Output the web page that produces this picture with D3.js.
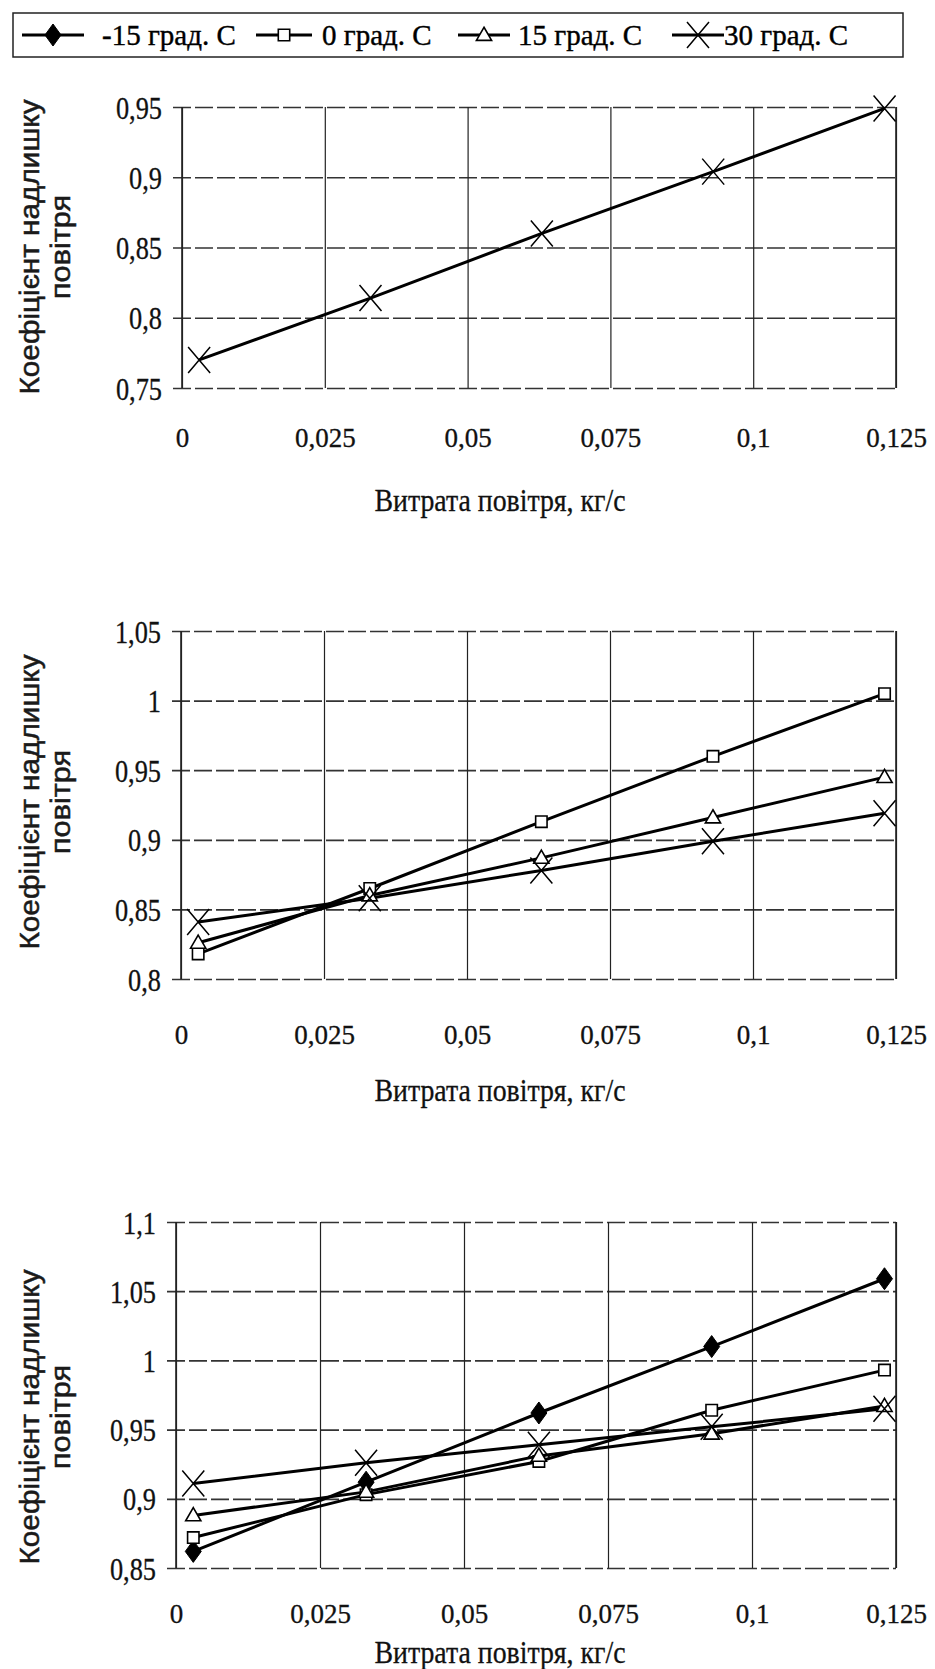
<!DOCTYPE html>
<html><head><meta charset="utf-8">
<script src="https://cdn.jsdelivr.net/npm/d3@7"></script>
<style>html,body{margin:0;padding:0;background:#fff}svg{display:block}</style>
</head><body>
<script>
// ---------- data ----------
const xValues = [0.003, 0.033, 0.063, 0.093, 0.123];
const xTicks = [0, 0.025, 0.05, 0.075, 0.1, 0.125];
const xTickLabels = ["0", "0,025", "0,05", "0,075", "0,1", "0,125"];
const seriesNames = ["-15 град. С", "0 град. С", "15 град. С", "30 град. С"];
const seriesSymbols = ["diamond", "square", "triangle", "cross"];

const yTicks1 = [0.75, 0.8, 0.85, 0.9, 0.95];
const yTickLabels1 = ["0,75", "0,8", "0,85", "0,9", "0,95"];
const panel1_30 = [0.770, 0.814, 0.860, 0.904, 0.949];

const yTicks2 = [0.8, 0.85, 0.9, 0.95, 1.0, 1.05];
const yTickLabels2 = ["0,8", "0,85", "0,9", "0,95", "1", "1,05"];
const panel2_0 = [0.818, 0.865, 0.913, 0.960, 1.005];
const panel2_15 = [0.826, 0.860, 0.887, 0.916, 0.945];
const panel2_30 = [0.841, 0.858, 0.878, 0.899, 0.919];

const yTicks3 = [0.85, 0.9, 0.95, 1.0, 1.05, 1.1];
const yTickLabels3 = ["0,85", "0,9", "0,95", "1", "1,05", "1,1"];
const panel3_m15 = [0.862, 0.912, 0.962, 1.010, 1.059];
const panel3_0 = [0.872, 0.903, 0.927, 0.964, 0.993];
const panel3_15 = [0.888, 0.905, 0.931, 0.947, 0.967];
const panel3_30 = [0.911, 0.926, 0.939, 0.952, 0.965];

const xTitle = "Витрата повітря, кг/с";
const yTitle1 = "Коефіцієнт надлишку";
const yTitle2 = "повітря";

// ---------- layout ----------
const W = 935, H = 1669;
const svg = d3.select("body").append("svg").attr("width", W).attr("height", H);
const SERIF = "'Liberation Serif', 'Times New Roman', serif";
const SANS = "'Liberation Sans', Arial, sans-serif";

function condense(sel, k) {
  sel.each(function () {
    const w = this.getComputedTextLength();
    d3.select(this).attr("textLength", w * k).attr("lengthAdjust", "spacingAndGlyphs");
  });
}

function drawMarker(g, type, cx, cy) {
  if (type === "diamond") {
    g.append("path").attr("d", "M0,-11L8,0L0,11L-8,0Z").attr("transform", `translate(${cx},${cy})`)
      .attr("fill", "#000").attr("stroke", "#000").attr("stroke-width", 1);
  } else if (type === "square") {
    g.append("path").attr("d", d3.symbol(d3.symbolSquare, 130)()).attr("transform", `translate(${cx},${cy})`)
      .attr("fill", "#fff").attr("stroke", "#000").attr("stroke-width", 1.6);
  } else if (type === "triangle") {
    g.append("path").attr("d", d3.symbol(d3.symbolTriangle, 100)()).attr("transform", `translate(${cx},${cy + 1})`)
      .attr("fill", "#fff").attr("stroke", "#000").attr("stroke-width", 1.6);
  } else if (type === "cross") {
    const dx = 11, dy = 13;
    g.append("path").attr("d", `M${cx - dx},${cy - dy}L${cx + dx},${cy + dy}M${cx - dx},${cy + dy}L${cx + dx},${cy - dy}`)
      .attr("fill", "none").attr("stroke", "#000").attr("stroke-width", 1.5);
  }
}

function panel(cfg) {
  const g = svg.append("g");
  const x = d3.scaleLinear().domain([0, 0.125]).range([cfg.left, cfg.right]);
  const y = d3.scaleLinear().domain([cfg.yTicks[0], cfg.yTicks[cfg.yTicks.length - 1]]).range([cfg.bottom, cfg.top]);

  // horizontal gridlines (dashed look)
  const yAxis = d3.axisLeft(y).tickValues(cfg.yTicks).tickSize(-(cfg.right - cfg.left)).tickSizeOuter(0)
    .tickFormat((d, i) => cfg.yLabels[i]);
  const ya = g.append("g").attr("transform", `translate(${cfg.left},0)`).call(yAxis);
  ya.select(".domain").remove();
  ya.selectAll(".tick line").attr("x1", -9).attr("stroke", "#333").attr("stroke-width", 1.7).attr("stroke-dasharray", "18,4");
  ya.selectAll(".tick text").attr("x", -20).attr("dy", "0.36em").style("font-family", SERIF).style("font-size", "31px")
    .attr("fill", "#111").attr("stroke", "#111").attr("stroke-width", 0.3);
  condense(ya.selectAll(".tick text"), 0.85);

  // vertical gridlines
  const xAxis = d3.axisBottom(x).tickValues(xTicks).tickSize(-(cfg.bottom - cfg.top)).tickSizeOuter(0)
    .tickFormat((d, i) => xTickLabels[i]);
  const xa = g.append("g").attr("transform", `translate(0,${cfg.bottom})`).call(xAxis);
  xa.select(".domain").remove();
  xa.selectAll(".tick line").attr("stroke", "#222").attr("stroke-width", 1.2);
  xa.selectAll(".tick text").attr("y", cfg.xLabelDy).attr("dy", "0.36em").style("font-family", SERIF).style("font-size", "27px")
    .attr("fill", "#111").attr("stroke", "#111").attr("stroke-width", 0.3);

  // plot frame left/right
  g.append("line").attr("x1", cfg.left).attr("x2", cfg.left).attr("y1", cfg.top).attr("y2", cfg.bottom).attr("stroke", "#222").attr("stroke-width", 1.6);
  g.append("line").attr("x1", cfg.right).attr("x2", cfg.right).attr("y1", cfg.top).attr("y2", cfg.bottom).attr("stroke", "#222").attr("stroke-width", 1.6);

  // series
  const line = d3.line().x((d, i) => x(xValues[i])).y(d => y(d));
  cfg.series.forEach(s => {
    g.append("path").datum(s.values).attr("d", line).attr("fill", "none").attr("stroke", "#000").attr("stroke-width", 3);
  });
  cfg.series.forEach(s => {
    s.values.forEach((v, i) => drawMarker(g, s.symbol, x(xValues[i]), y(v)));
  });

  // x title
  g.append("text").attr("x", 500).attr("y", cfg.xTitleY).attr("dy", "0.36em").attr("text-anchor", "middle")
    .style("font-family", SERIF).style("font-size", "31px").attr("fill", "#111").attr("stroke", "#111").attr("stroke-width", 0.3)
    .attr("textLength", 251).attr("lengthAdjust", "spacingAndGlyphs").text(xTitle);
  // y title (two lines rotated)
  g.append("text").attr("transform", `translate(29,${cfg.yTitleY}) rotate(-90)`).attr("dy", "0.36em").attr("text-anchor", "middle")
    .style("font-family", SANS).style("font-size", "28px").attr("fill", "#1a1a1a").attr("stroke", "#1a1a1a").attr("stroke-width", 0.5)
    .attr("textLength", 295).attr("lengthAdjust", "spacingAndGlyphs").text(yTitle1);
  g.append("text").attr("transform", `translate(60,${cfg.yTitleY}) rotate(-90)`).attr("dy", "0.36em").attr("text-anchor", "middle")
    .style("font-family", SANS).style("font-size", "28px").attr("fill", "#1a1a1a").attr("stroke", "#1a1a1a").attr("stroke-width", 0.5)
    .attr("textLength", 104).attr("lengthAdjust", "spacingAndGlyphs").text(yTitle2);
}

panel({ left: 182, right: 896, top: 107, bottom: 388, yTicks: yTicks1, yLabels: yTickLabels1,
  xLabelDy: 49, xTitleY: 500, yTitleY: 247,
  series: [{ symbol: "cross", values: panel1_30 }] });

panel({ left: 181, right: 896, top: 631, bottom: 979, yTicks: yTicks2, yLabels: yTickLabels2,
  xLabelDy: 55, xTitleY: 1090, yTitleY: 802,
  series: [{ symbol: "square", values: panel2_0 }, { symbol: "triangle", values: panel2_15 }, { symbol: "cross", values: panel2_30 }] });

panel({ left: 176, right: 896, top: 1222, bottom: 1568, yTicks: yTicks3, yLabels: yTickLabels3,
  xLabelDy: 45, xTitleY: 1652, yTitleY: 1417,
  series: [{ symbol: "diamond", values: panel3_m15 }, { symbol: "square", values: panel3_0 }, { symbol: "triangle", values: panel3_15 }, { symbol: "cross", values: panel3_30 }] });

// ---------- legend ----------
const lg = svg.append("g");
lg.append("rect").attr("x", 13).attr("y", 13).attr("width", 890).attr("height", 44).attr("fill", "#fff").attr("stroke", "#222").attr("stroke-width", 1.5);
const legendItems = [
  { sx1: 22, sx2: 84, tx: 102 },
  { sx1: 256, sx2: 312, tx: 322 },
  { sx1: 458, sx2: 510, tx: 518 },
  { sx1: 672, sx2: 724, tx: 724 }
];
seriesNames.forEach((name, i) => {
  const it = legendItems[i], cy = 35;
  lg.append("line").attr("x1", it.sx1).attr("x2", it.sx2).attr("y1", cy).attr("y2", cy).attr("stroke", "#000").attr("stroke-width", 3);
  drawMarker(lg, seriesSymbols[i], (it.sx1 + it.sx2) / 2, cy);
  lg.append("text").attr("x", it.tx).attr("y", cy).attr("dy", "0.36em").style("font-family", SERIF).style("font-size", "29px")
    .attr("fill", "#000").attr("stroke", "#000").attr("stroke-width", 0.4).text(name);
});
</script>
</body></html>
